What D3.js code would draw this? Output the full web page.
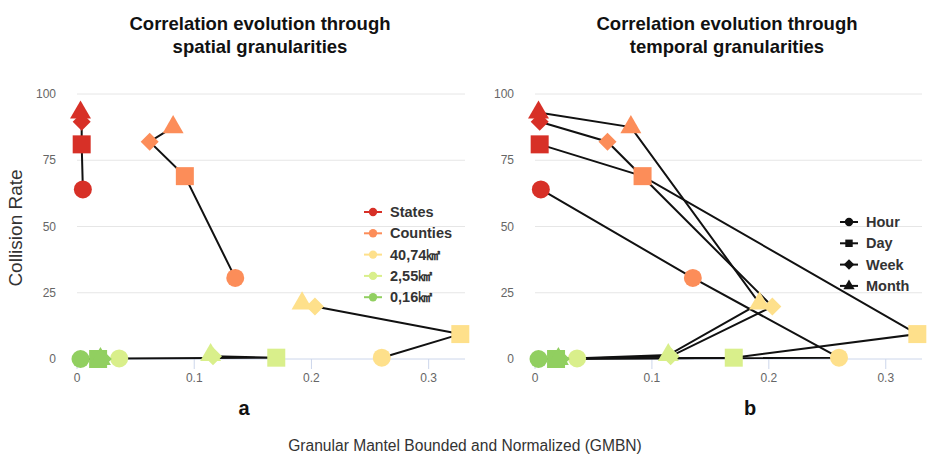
<!DOCTYPE html>
<html>
<head>
<meta charset="utf-8">
<script src="https://cdn.jsdelivr.net/npm/d3@7"></script>
<style>
  body { margin: 0; background: #fff; }
  text { font-family: "Liberation Sans", Arial, sans-serif; }
</style>
</head>
<body>
<svg id="chart" width="928" height="458"></svg>
<script>
// spatial granularities (colours) and temporal granularities (shapes)
const spatial = ["States", "Counties", "40,74㎢", "2,55㎢", "0,16㎢"];
const temporal = ["Hour", "Day", "Week", "Month"];
const spatialColors = ["#d73027", "#fc8d59", "#fee08b", "#d9ef8b", "#91cf60"];

// GMBN (x) and collision rate (y) per spatial level, in order Hour, Day, Week, Month
const gmbnStates = [0.005, 0.004, 0.004, 0.003];
const rateStates = [64, 81, 89.5, 93];
const gmbnCounties = [0.135, 0.092, 0.062, 0.082];
const rateCounties = [30.6, 69, 82, 87.5];
const gmbn4074 = [0.26, 0.327, 0.203, 0.192];
const rate4074 = [0.5, 9.4, 19.8, 21];
const gmbn255 = [0.036, 0.17, 0.116, 0.114];
const rate255 = [0.2, 0.5, 1, 1.5];
const gmbn016 = [0.003, 0.018, 0.022, 0.02];
const rate016 = [0, 0, 0, 0];

const xTicks = [0, 0.1, 0.2, 0.3];
const yTicks = [0, 25, 50, 75, 100];

const gmbnAll = [gmbnStates, gmbnCounties, gmbn4074, gmbn255, gmbn016];
const rateAll = [rateStates, rateCounties, rate4074, rate255, rate016];

// flat point list
const points = [];
spatial.forEach((s, i) => {
    temporal.forEach((t, j) => {
        points.push({ spatial: s, si: i, temporal: t, ti: j, x: gmbnAll[i][j], y: rateAll[i][j] });
    });
});

const svg = d3.select("#chart");

// square diamond (rotated square) like highcharts
const symbolRhombus = {
    draw(context, size) {
        const r = Math.sqrt(size / 2);
        context.moveTo(0, -r);
        context.lineTo(r, 0);
        context.lineTo(0, r);
        context.lineTo(-r, 0);
        context.closePath();
    }
};

const shapeFor = {
    Hour: d3.symbolCircle,
    Day: d3.symbolSquare,
    Week: symbolRhombus,
    Month: d3.symbolTriangle
};
const sizeFor = { Hour: 254, Day: 324, Week: 162, Month: 190 };

function drawPanel(opts) {
    const x = d3.scaleLinear().domain([0, 0.331]).range([opts.left, opts.right]);
    const y = d3.scaleLinear().domain([0, 100]).range([359, 94]);
    const g = svg.append("g");

    // grid
    g.selectAll(".grid").data(yTicks.filter(d => d > 0)).enter().append("line")
        .attr("x1", opts.left).attr("x2", opts.right)
        .attr("y1", d => y(d)).attr("y2", d => y(d))
        .attr("stroke", "#e6e6e6").attr("stroke-width", 1);
    g.append("line")
        .attr("x1", opts.left).attr("x2", opts.right)
        .attr("y1", y(0)).attr("y2", y(0))
        .attr("stroke", "#ccd6eb");

    // y labels
    g.selectAll(".ylab").data(yTicks).enter().append("text")
        .attr("x", opts.left - 21).attr("y", d => y(d) + 4)
        .attr("text-anchor", "end")
        .attr("font-size", 12).attr("fill", "#666")
        .text(d => d);

    // x ticks + labels
    g.selectAll(".xt").data(xTicks).enter().append("line")
        .attr("x1", d => x(d)).attr("x2", d => x(d))
        .attr("y1", y(0)).attr("y2", y(0) + 10)
        .attr("stroke", "#ccd6eb");
    g.selectAll(".xlab").data(xTicks).enter().append("text")
        .attr("x", d => x(d)).attr("y", y(0) + 23)
        .attr("text-anchor", "middle")
        .attr("font-size", 12).attr("fill", "#666")
        .text(d => d);

    // title
    const title = g.append("text")
        .attr("x", opts.titleX).attr("y", 30)
        .attr("text-anchor", "middle")
        .attr("font-size", 18.5).attr("font-weight", "bold").attr("fill", "#111");
    opts.title.forEach((t, i) => {
        title.append("tspan").attr("x", opts.titleX).attr("dy", i ? 23 : 0).text(t);
    });

    // lines grouped by series
    const line = d3.line().x(d => x(d.x)).y(d => y(d.y));
    const groups = d3.groups(points, opts.groupBy);
    g.selectAll(".series").data(groups).enter().append("path")
        .attr("d", d => line(d[1].slice().sort((a, b) => opts.order(a) - opts.order(b))))
        .attr("fill", "none").attr("stroke", "#111").attr("stroke-width", 2);

    // markers
    g.selectAll(".pt").data(points).enter().append("path")
        .attr("transform", d => `translate(${x(d.x)},${y(d.y)})`)
        .attr("d", d => d3.symbol(shapeFor[d.temporal], sizeFor[d.temporal])())
        .attr("fill", d => spatialColors[d.si]);

    // legend
    const leg = g.append("g");
    opts.legend.forEach((item, i) => {
        const ly = opts.legendY + i * 21.3;
        leg.append("line")
            .attr("x1", opts.legendX).attr("x2", opts.legendX + 18)
            .attr("y1", ly).attr("y2", ly)
            .attr("stroke", item.color).attr("stroke-width", 2);
        leg.append("path")
            .attr("transform", `translate(${opts.legendX + 9},${ly})`)
            .attr("d", d3.symbol(item.shape, 55)())
            .attr("fill", item.color);
        leg.append("text")
            .attr("x", opts.legendX + 26).attr("y", ly + 5)
            .attr("font-size", 14.5).attr("font-weight", "bold").attr("fill", "#333")
            .text(item.label);
    });

    // panel letter
    g.append("text")
        .attr("x", opts.letterX).attr("y", 415)
        .attr("text-anchor", "middle")
        .attr("font-size", 20).attr("font-weight", "bold").attr("fill", "#111")
        .text(opts.letter);
}

drawPanel({
    left: 77, right: 465, titleX: 260, letterX: 244, letter: "a",
    title: ["Correlation evolution through", "spatial granularities"],
    groupBy: d => d.spatial,
    order: d => d.ti,
    legendX: 364, legendY: 212,
    legend: spatial.map((s, i) => ({ label: s, color: spatialColors[i], shape: d3.symbolCircle }))
});

drawPanel({
    left: 535, right: 922, titleX: 727, letterX: 750, letter: "b",
    title: ["Correlation evolution through", "temporal granularities"],
    groupBy: d => d.temporal,
    order: d => d.si,
    legendX: 840, legendY: 222,
    legend: temporal.map(t => ({ label: t, color: "#111", shape: shapeFor[t] }))
});

// axis titles
svg.append("text")
    .attr("transform", "translate(22,228) rotate(-90)")
    .attr("text-anchor", "middle")
    .attr("font-size", 19).attr("fill", "#333")
    .text("Collision Rate");

svg.append("text")
    .attr("x", 465).attr("y", 451)
    .attr("text-anchor", "middle")
    .attr("font-size", 15.6).attr("fill", "#333")
    .text("Granular Mantel Bounded and Normalized (GMBN)");
</script>
</body>
</html>
